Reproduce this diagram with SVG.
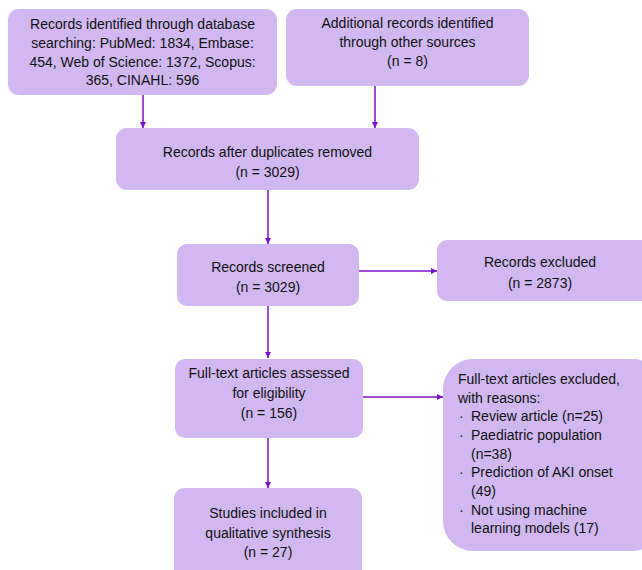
<svg xmlns="http://www.w3.org/2000/svg" width="642" height="570" viewBox="0 0 642 570">
<style>
.box{fill:#d1b8f1;stroke:none}
.t{font-family:"Liberation Sans",Arial,sans-serif;font-size:14px;fill:#111111}
.c{text-anchor:middle}
.edge{stroke:#7b10c8;stroke-width:1.5;fill:none;marker-end:url(#ah)}
</style>
<defs>
<marker id="ah" viewBox="0 0 10 10" refX="10" refY="5" markerWidth="6" markerHeight="6" markerUnits="userSpaceOnUse" orient="auto"><path d="M0,0 L10,5 L0,10 Z" fill="#7b10c8"/></marker>
</defs>
<rect width="642" height="570" fill="#ffffff"/>
<g id="connectors">
<line class="edge" x1="143" y1="95" x2="143" y2="128"/>
<line class="edge" x1="375" y1="86" x2="375" y2="128"/>
<line class="edge" x1="268" y1="190" x2="268" y2="244"/>
<line class="edge" x1="359" y1="271" x2="437" y2="271"/>
<line class="edge" x1="268" y1="306" x2="268" y2="358"/>
<line class="edge" x1="363" y1="397" x2="443" y2="397"/>
<line class="edge" x1="268" y1="438" x2="268" y2="488"/>
</g>
<g id="n1"><rect class="box" x="8" y="9" width="269" height="86" rx="11"/>
<text class="t c" x="142.5" y="29">Records identified through database</text>
<text class="t c" x="142.5" y="48">searching: PubMed: 1834, Embase:</text>
<text class="t c" x="142.5" y="66.5">454, Web of Science: 1372, Scopus:</text>
<text class="t c" x="142.5" y="85">365, CINAHL: 596</text></g>
<g id="n2"><rect class="box" x="286" y="9" width="243" height="77" rx="11"/>
<text class="t c" x="407.5" y="28">Additional records identified</text>
<text class="t c" x="407.5" y="46.5">through other sources</text>
<text class="t c" x="407.5" y="66">(n = 8)</text></g>
<g id="n3"><rect class="box" x="116" y="128" width="303" height="62" rx="11"/>
<text class="t c" x="267.5" y="157">Records after duplicates removed</text>
<text class="t c" x="267.5" y="177">(n = 3029)</text></g>
<g id="n4"><rect class="box" x="177" y="244" width="182" height="62" rx="10"/>
<text class="t c" x="268" y="272">Records screened</text>
<text class="t c" x="268" y="292">(n = 3029)</text></g>
<g id="n5"><rect class="box" x="437" y="240" width="215" height="61" rx="10"/>
<text class="t c" x="540" y="267">Records excluded</text>
<text class="t c" x="540" y="288">(n = 2873)</text></g>
<g id="n6"><rect class="box" x="175" y="359" width="188" height="79" rx="10"/>
<text class="t c" x="269" y="378">Full-text articles assessed</text>
<text class="t c" x="269" y="398">for eligibility</text>
<text class="t c" x="269" y="418">(n = 156)</text></g>
<g id="n7"><rect class="box" x="443" y="359" width="220" height="192" rx="30"/>
<text class="t" x="458" y="384">Full-text articles excluded,</text>
<text class="t" x="458" y="402.5">with reasons:</text>
<text class="t" x="459" y="421">·</text><text class="t" x="471" y="421">Review article (n=25)</text>
<text class="t" x="459" y="440">·</text><text class="t" x="471" y="440">Paediatric population</text>
<text class="t" x="471" y="458.5">(n=38)</text>
<text class="t" x="459" y="477">·</text><text class="t" x="471" y="477">Prediction of AKI onset</text>
<text class="t" x="471" y="496">(49)</text>
<text class="t" x="459" y="514.5">·</text><text class="t" x="471" y="514.5">Not using machine</text>
<text class="t" x="471" y="533">learning models (17)</text></g>
<g id="n8"><rect class="box" x="174" y="488" width="188" height="92" rx="10"/>
<text class="t c" x="268" y="518">Studies included in</text>
<text class="t c" x="268" y="538">qualitative synthesis</text>
<text class="t c" x="268" y="557">(n = 27)</text></g>
</svg>
